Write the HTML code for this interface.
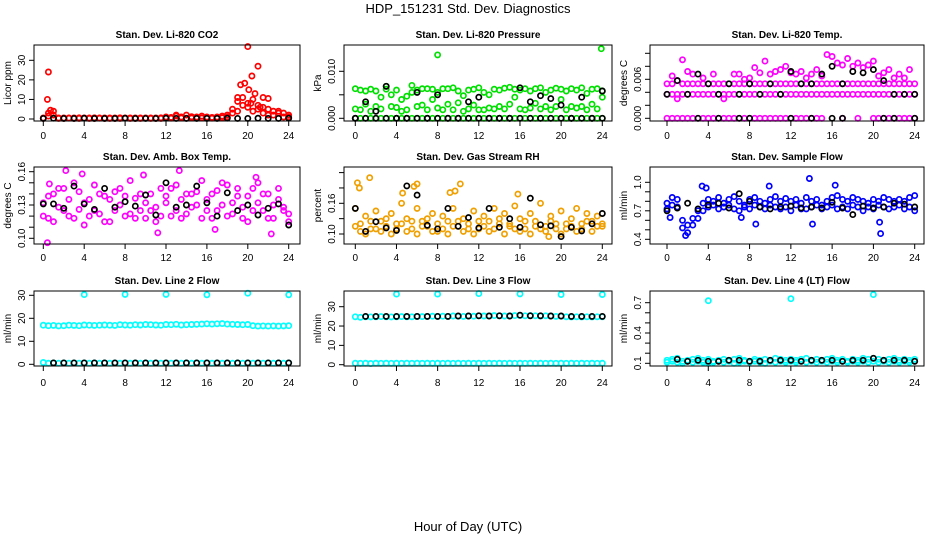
<!DOCTYPE html>
<html><head><meta charset="utf-8">
<style>
html,body{margin:0;padding:0;background:#fff;}
svg{display:block;font-family:"Liberation Sans",sans-serif;}
</style></head>
<body>
<svg id="chart" width="936" height="540" viewBox="0 0 936 540" xmlns="http://www.w3.org/2000/svg">
<text x="468" y="13" text-anchor="middle" font-size="13">HDP_151231  Std. Dev. Diagnostics</text>
<text x="468" y="531" text-anchor="middle" font-size="13">Hour of Day (UTC)</text>
</svg>
<script>
const H49 = [0,0.5,1,1.5,2,2.5,3,3.5,4,4.5,5,5.5,6,6.5,7,7.5,8,8.5,9,9.5,10,10.5,11,11.5,12,12.5,13,13.5,14,14.5,15,15.5,16,16.5,17,17.5,18,18.5,19,19.5,20,20.5,21,21.5,22,22.5,23,23.5,24];
const H25 = [0,1,2,3,4,5,6,7,8,9,10,11,12,13,14,15,16,17,18,19,20,21,22,23,24];
const xTicks = [0,4,8,12,16,20,24];

// CO2
const co2Red = [0.5,3,4,0.5,0.5,0.5,0.5,0.6,0.5,0.5,0.6,0.5,0.5,0.5,0.5,0.6,0.5,0.5,0.5,0.5,0.5,0.5,0.5,0.6,1,0.8,1.5,1,2,1.2,1,1.5,1,0.8,1,1.5,2,5,9,11,8,10,7,6,5,4,3,3,2];
const co2Red2 = [0.3,1.5,2,0.3,0.3,0.4,0.3,0.3,0.4,0.3,0.3,0.4,0.3,0.3,0.3,0.3,0.4,0.3,0.3,0.3,0.4,0.3,0.3,0.3,0.5,0.4,2,0.5,0.4,0.5,0.4,0.5,0.6,0.4,0.5,0.6,1,3,4,7,6,4,5,3,2,2,4,1,1];
const co2OutH = [0.5,0.4,19.0,19.3,19.7,20.0,20.1,20.4,20.7,21.0,21.5,22.0,0.7,20.3,21.2];
const co2OutV = [24,10,11,17.5,18.3,37,15,22,13,27,11,10.5,4.5,8,6];
const co2Black = [0.3,0.4,0.3,0.3,0.4,0.3,0.3,0.3,0.4,0.3,0.3,0.3,0.4,0.3,0.3,0.3,0.3,0.3,0.4,0.3,0.3,0.4,0.3,0.3,0.4];

// Pressure
const prsZero = [0,0,0,0,0,0,0,0,0,0,0,0,0,0,0,0,0,0,0,0,0,0,0,0,0,0,0,0,0,0,0,0,0,0,0,0,0,0,0,0,0,0,0,0,0,0,0,0,0];
const prsGreen = [0.0063,0.0018,0.0058,0.0062,0.0025,0.0045,0.0068,0.0050,0.0023,0.0015,0.0047,0.0070,0.0060,0.0028,0.0063,0.0040,0.0055,0.0018,0.0063,0.0065,0.0033,0.0048,0.0020,0.0062,0.0065,0.0018,0.0050,0.0062,0.0025,0.0064,0.0066,0.0045,0.0020,0.0063,0.0058,0.0032,0.0065,0.0025,0.0060,0.0064,0.0040,0.0058,0.0063,0.0022,0.0065,0.0053,0.0030,0.0063,0.0058];
const prsGreen2 = [0.0020,0.0060,0.0030,0.0015,0.0058,0.0020,0.0062,0.0025,0.0060,0.0040,0.0018,0.0055,0.0025,0.0063,0.0018,0.0062,0.0022,0.0063,0.0030,0.0018,0.0058,0.0015,0.0060,0.0028,0.0018,0.0055,0.0022,0.0020,0.0060,0.0020,0.0030,0.0062,0.0060,0.0018,0.0022,0.0063,0.0020,0.0055,0.0018,0.0025,0.0062,0.0018,0.0025,0.0060,0.0025,0.0018,0.0062,0.0020,0.0045];
const prsOutH = [8,23.9];
const prsOutV = [0.0135,0.0148];
const prsBlack = [0,0.0035,0.0015,0.0068,0,0,0.0055,0,0.0050,0,0,0.0035,0.0045,0,0,0,0.0065,0.0035,0.0048,0.0042,0.0028,0,0.0045,0,0.0058];
const prsBlackZero = [0,0,0,0,0,0,0,0,0,0,0,0,0,0,0,0,0,0,0,0,0,0,0,0,0];

// Li-820 temperature
const tmpZero = [0,0,0,0,0,0,0,0,0,0,0,0,0,0,0,0,0,0,0,0,0,0,0,0,0,0,0,0,0,0,0,null,null,null,0,null,null,0,null,null,0,0,0,0,0,0,0,0,0];
const tmpLow = [0.0037,0.0037,0.0037,0.0037,0.0037,0.0037,0.0037,0.0037,0.0037,0.0037,0.0037,0.0037,0.0037,0.0037,0.0037,0.0037,0.0037,0.0037,0.0037,0.0037,0.0037,0.0037,0.0037,0.0037,0.0037,0.0037,0.0037,0.0037,0.0037,0.0037,0.0037,0.0037,0.0037,0.0037,0.0037,0.0037,0.0037,0.0037,0.0037,0.0037,0.0037,0.0037,0.0037,0.0037,0.0037,0.0037,0.0037,0.0037,0.0037];
const tmpMid = [0.0053,0.0053,0.0058,0.0053,0.0053,0.0053,0.0053,0.0053,0.0053,0.0053,0.0053,0.0053,0.0053,0.0053,0.0053,0.0053,0.0053,0.0053,0.0053,0.0053,0.0053,0.0053,0.0053,0.0053,0.0053,0.0053,0.0053,0.0053,0.0053,0.0053,0.0053,0.0053,0.0053,0.0053,0.0053,0.0053,0.0053,0.0053,0.0053,0.0053,0.0053,0.0053,0.0053,0.0053,0.0053,0.0053,0.0053,0.0053,0.0053];
const tmpHigh = [null,0.0065,0.0030,0.0090,0.0072,0.0068,null,0.0062,null,0.0068,null,0.0030,null,0.0068,0.0068,0.0060,0.0062,0.0078,0.0070,0.0088,0.0068,0.0072,0.0075,0.0080,0.0070,0.0068,0.0072,0.0062,0.0068,0.0075,0.0065,0.0098,0.0095,0.0085,0.0082,0.0092,0.0080,0.0085,0.0078,0.0082,0.0088,0.0065,0.0070,0.0075,0.0062,0.0068,0.0062,0.0075,null];
const tmpBlack = [0.0037,0.0058,0.0037,0.0068,0.0053,0.0037,0.0053,0.0037,0.0053,0.0037,0.0053,0.0037,0.0072,0.0053,0.0053,0.0068,0.0080,0.0053,0.0072,0.0070,0.0075,0.0058,0.0037,0.0037,0.0037];
const tmpBlackZero = [null,null,null,0,null,0,null,0,0,null,null,null,0,null,0,null,0,0,null,null,null,0,0,null,0];

// Ambient box temp
const ambA = [0.132,0.118,0.140,0.128,0.145,0.120,0.150,0.126,0.112,0.135,0.148,0.122,0.138,0.115,0.142,0.130,0.120,0.152,0.136,0.125,0.118,0.140,0.128,0.145,0.132,0.120,0.148,0.135,0.122,0.140,0.130,0.152,0.125,0.118,0.143,0.130,0.148,0.122,0.138,0.128,0.115,0.145,0.132,0.125,0.140,0.118,0.135,0.128,0.122];
const ambB = [0.120,0.138,0.115,0.145,0.125,0.135,0.118,0.142,0.132,0.120,0.125,0.140,0.115,0.135,0.125,0.145,0.138,0.122,0.118,0.140,0.132,0.125,0.115,0.120,0.138,0.145,0.125,0.118,0.140,0.128,0.142,0.118,0.135,0.140,0.125,0.150,0.120,0.132,0.145,0.118,0.138,0.125,0.150,0.140,0.118,0.130,0.145,0.125,0.115];
const ambOutH = [0.6,2.2,3.8,9.8,11.2,13.3,16.8,20.8,22.3,0.4];
const ambOutV = [0.149,0.161,0.158,0.157,0.105,0.161,0.108,0.155,0.104,0.096];
const ambBlack = [0.131,0.131,0.127,0.147,0.131,0.126,0.145,0.128,0.133,0.129,0.139,0.121,0.150,0.128,0.130,0.147,0.132,0.120,0.141,0.125,0.130,0.121,0.127,0.131,0.112];

// Gas stream RH
const rhA = [0.150,0.120,0.135,0.110,0.145,0.125,0.115,0.140,0.120,0.160,0.130,0.110,0.150,0.125,0.115,0.140,0.105,0.135,0.125,0.150,0.115,0.130,0.120,0.145,0.110,0.135,0.125,0.150,0.120,0.140,0.115,0.155,0.130,0.110,0.140,0.125,0.160,0.115,0.135,0.120,0.145,0.110,0.130,0.150,0.120,0.140,0.125,0.135,0.115];
const rhB = [0.115,0.105,0.100,0.125,0.110,0.105,0.130,0.100,0.110,0.120,0.105,0.125,0.100,0.115,0.130,0.105,0.120,0.110,0.100,0.115,0.125,0.105,0.110,0.100,0.125,0.115,0.105,0.110,0.130,0.100,0.120,0.110,0.105,0.125,0.100,0.115,0.110,0.105,0.125,0.110,0.100,0.120,0.115,0.105,0.110,0.125,0.105,0.115,0.120];
const rhOutH = [0.2,0.4,1.4,4.6,5.7,6.0,9.2,9.7,10.2,15.8,18.8];
const rhOutV = [0.200,0.190,0.210,0.180,0.193,0.198,0.181,0.184,0.198,0.178,0.095];
const rhBlack = [0.150,0.105,0.124,0.112,0.107,0.194,0.176,0.117,0.110,0.150,0.115,0.132,0.112,0.150,0.113,0.130,0.113,0.170,0.118,0.116,0.095,0.113,0.106,0.120,0.140];

// Sample flow
const sfA = [0.78,0.84,0.82,0.60,0.55,0.62,0.70,0.78,0.82,0.80,0.84,0.78,0.82,0.85,0.80,0.76,0.82,0.84,0.80,0.78,0.82,0.85,0.80,0.83,0.80,0.82,0.78,0.84,0.80,0.82,0.76,0.80,0.84,0.86,0.82,0.80,0.84,0.82,0.80,0.78,0.82,0.80,0.84,0.82,0.80,0.82,0.80,0.84,0.86];
const sfB = [0.72,0.76,0.74,0.52,0.47,0.55,0.62,0.70,0.74,0.76,0.72,0.74,0.76,0.72,0.70,0.74,0.72,0.76,0.74,0.72,0.76,0.74,0.72,0.74,0.70,0.76,0.72,0.72,0.74,0.76,0.72,0.74,0.76,0.72,0.74,0.72,0.76,0.74,0.70,0.74,0.72,0.76,0.74,0.72,0.74,0.76,0.72,0.74,0.70];
const sfOutH = [0.3,1.8,3.4,3.8,7.2,8.6,13.8,14.1,20.6,20.7,9.9,16.3];
const sfOutV = [0.63,0.44,0.96,0.94,0.63,0.56,1.04,0.56,0.58,0.46,0.96,0.97];
const sfBlack = [0.70,0.73,0.78,0.72,0.76,0.78,0.73,0.88,0.80,0.74,0.72,0.74,0.75,0.73,0.74,0.73,0.79,0.73,0.66,0.75,0.73,0.74,0.78,0.77,0.74];

// Line 2 flow
const l2Band = [17.0,16.8,16.9,16.7,16.8,17.0,16.9,16.8,17.1,17.0,16.9,17.0,17.1,17.0,16.9,17.2,17.1,17.0,17.2,17.1,17.3,17.2,17.1,17.0,17.3,17.2,17.4,17.1,17.2,17.3,17.4,17.5,17.6,17.5,17.6,17.7,17.5,17.4,17.3,17.2,17.3,16.8,16.6,16.7,16.6,16.7,16.6,16.7,16.8];
const l2Zero = [0.8,0.5,0.6,0.5,0.6,0.5,0.6,0.5,0.6,0.5,0.6,0.5,0.6,0.5,0.6,0.5,0.6,0.5,0.6,0.5,0.6,0.5,0.6,0.5,0.6,0.5,0.6,0.5,0.6,0.5,0.6,0.5,0.6,0.5,0.6,0.5,0.6,0.5,0.6,0.5,0.6,0.5,0.6,0.5,0.6,0.5,0.6,0.5,0.6];
const l2OutH = [4,8,12,16,20,24];
const l2OutV = [30.3,30.4,30.4,30.2,30.9,30.2];
const l2Black = [null,0.6,0.6,0.6,0.6,0.6,0.6,0.6,0.6,0.6,0.6,0.6,0.6,0.6,0.6,0.6,0.6,0.6,0.6,0.6,0.6,0.6,0.6,0.6,0.6];

// Line 3 flow
const l3Band = [24.8,24.5,24.8,24.7,24.8,24.9,24.8,24.7,24.8,24.9,24.8,24.8,25.0,24.9,25.0,25.1,25.0,25.1,25.0,25.2,25.1,25.0,25.2,25.1,25.3,25.2,25.3,25.4,25.3,25.2,25.3,25.4,25.5,25.3,25.4,25.3,25.2,25.3,25.2,25.0,25.1,24.8,24.7,24.8,24.7,24.8,24.7,24.8,24.8];
const l3Zero = [0.8,0.7,0.8,0.6,0.8,0.7,0.8,0.7,0.8,0.7,0.8,0.7,0.8,0.7,0.8,0.7,0.8,0.7,0.8,0.7,0.8,0.7,0.8,0.7,0.8,0.7,0.8,0.7,0.8,0.7,0.8,0.7,0.8,0.7,0.8,0.7,0.8,0.7,0.8,0.7,0.8,0.7,0.8,0.7,0.8,0.7,0.8,0.7,0.8];
const l3OutH = [4,8,12,16,20,24];
const l3OutV = [36.5,36.5,36.8,36.6,36.3,36.3];
const l3Black = [null,25,25,25,25,25,25,25,25,25,25.2,25.2,25.3,25.2,25.3,25.2,25.6,25.3,25.3,25.2,25.2,25.0,25.0,25.0,25.0];

// Line 4 flow
const l4A = [0.13,0.14,0.15,0.12,0.13,0.14,0.15,0.13,0.14,0.12,0.13,0.14,0.13,0.14,0.15,0.13,0.12,0.14,0.13,0.14,0.13,0.15,0.14,0.13,0.14,0.13,0.14,0.15,0.13,0.14,0.13,0.14,0.15,0.13,0.14,0.12,0.14,0.13,0.15,0.14,0.15,0.14,0.13,0.14,0.15,0.13,0.14,0.13,0.14];
const l4B = [0.11,0.12,0.11,0.10,0.12,0.11,0.12,0.11,0.10,0.11,0.12,0.11,0.12,0.10,0.11,0.12,0.11,0.12,0.11,0.10,0.12,0.11,0.12,0.11,0.12,0.11,0.12,0.11,0.12,0.11,0.12,0.11,0.12,0.11,0.12,0.11,0.12,0.11,0.12,0.11,0.12,0.11,0.12,0.11,0.12,0.11,0.12,0.11,0.12];
const l4OutH = [4,12,20];
const l4OutV = [0.72,0.74,0.78];
const l4Black = [null,0.14,0.12,0.13,0.12,0.12,0.13,0.13,0.12,0.12,0.13,0.13,0.13,0.12,0.13,0.13,0.13,0.12,0.13,0.13,0.15,0.13,0.13,0.13,0.12];

const NS = "http://www.w3.org/2000/svg";
const svg = document.getElementById("chart");
function mk(tag, attrs, parent){
  const e = document.createElementNS(NS, tag);
  for (const k in attrs) e.setAttribute(k, attrs[k]);
  (parent||svg).appendChild(e);
  return e;
}
const COLS = [{l:34,r:300,x0:43.3,x24:288.7},{l:344,r:612,x0:355.3,x24:602.3},{l:650,r:924,x0:667,x24:914.7}];
const ROWS = [{t:45,b:121,tt:38,xl:139},{t:167,b:244,tt:160,xl:261},{t:291,b:366,tt:284,xl:386}];

const panels = [
 {name:"co2",title:"Stan. Dev. Li-820 CO2",ylab:"Licor ppm",c:0,r:0,ya:0,yap:119,yb:30,ybp:60.3,ticks:[0,10,20,30],labels:["0","10","20","30"],
  series:[["#ff0000",H49,co2Red],["#ff0000",H49,co2Red2],["#ff0000",co2OutH,co2OutV],["#000000",H25,co2Black]]},
 {name:"pressure",title:"Stan. Dev. Li-820 Pressure",ylab:"kPa",c:1,r:0,ya:0,yap:118.3,yb:0.01,ybp:71.3,ticks:[0,0.005,0.01],labels:["0.000","","0.010"],
  series:[["#00e000",H49,prsZero],["#00e000",H49,prsGreen],["#00e000",H49,prsGreen2],["#00e000",prsOutH,prsOutV],["#000000",H25,prsBlackZero],["#000000",H25,prsBlack]]},
 {name:"licor-temp",title:"Stan. Dev. Li-820 Temp.",ylab:"degrees C",c:2,r:0,ya:0,yap:118.3,yb:0.006,ybp:79.3,ticks:[0,0.002,0.004,0.006,0.008,0.010],labels:["0.000","","","0.006","",""],
  series:[["#ff00ff",H49,tmpZero],["#ff00ff",H49,tmpLow],["#ff00ff",H49,tmpMid],["#ff00ff",H49,tmpHigh],["#000000",H25,tmpBlackZero],["#000000",H25,tmpBlack]]},
 {name:"amb-box-temp",title:"Stan. Dev. Amb. Box Temp.",ylab:"degrees C",c:0,r:1,ya:0.10,yap:238.3,yb:0.16,ybp:171.7,ticks:[0.10,0.11,0.12,0.13,0.14,0.15,0.16],labels:["0.10","","","0.13","","","0.16"],
  series:[["#ff00ff",H49,ambA],["#ff00ff",H49,ambB],["#ff00ff",ambOutH,ambOutV],["#000000",H25,ambBlack]]},
 {name:"gas-rh",title:"Stan. Dev. Gas Stream RH",ylab:"percent",c:1,r:1,ya:0.10,yap:234,yb:0.16,ybp:203.3,ticks:[0.10,0.13,0.16,0.19,0.22],labels:["0.10","","0.16","",""],
  series:[["#f0a000",H49,rhA],["#f0a000",H49,rhB],["#f0a000",rhOutH,rhOutV],["#000000",H25,rhBlack]]},
 {name:"sample-flow",title:"Stan. Dev. Sample Flow",ylab:"ml/min",c:2,r:1,ya:0.4,yap:239.3,yb:1.0,ybp:182.3,ticks:[0.4,0.5,0.6,0.7,0.8,0.9,1.0],labels:["0.4","","","0.7","","","1.0"],
  series:[["#0000ff",H49,sfA],["#0000ff",H49,sfB],["#0000ff",sfOutH,sfOutV],["#000000",H25,sfBlack]]},
 {name:"line2-flow",title:"Stan. Dev. Line 2 Flow",ylab:"ml/min",c:0,r:2,ya:0,yap:364.3,yb:30,ybp:295.3,ticks:[0,10,20,30],labels:["0","10","20","30"],
  series:[["#00ffff",H49,l2Band],["#00ffff",H49,l2Zero],["#00ffff",l2OutH,l2OutV],["#000000",H25,l2Black]]},
 {name:"line3-flow",title:"Stan. Dev. Line 3 Flow",ylab:"ml/min",c:1,r:2,ya:0,yap:364.7,yb:30,ybp:306.7,ticks:[0,10,20,30],labels:["0","10","20","30"],
  series:[["#00ffff",H49,l3Band],["#00ffff",H49,l3Zero],["#00ffff",l3OutH,l3OutV],["#000000",H25,l3Black]]},
 {name:"line4-flow",title:"Stan. Dev. Line 4 (LT) Flow",ylab:"ml/min",c:2,r:2,ya:0.1,yap:363.3,yb:0.7,ybp:302.7,ticks:[0.1,0.2,0.3,0.4,0.5,0.6,0.7],labels:["0.1","","","0.4","","","0.7"],
  series:[["#00ffff",H49,l4A],["#00ffff",H49,l4B],["#00ffff",l4OutH,l4OutV],["#000000",H25,l4Black]]}
];

panels.forEach(p=>{
  const C = COLS[p.c], R = ROWS[p.r];
  const xs = h => C.x0 + h*(C.x24-C.x0)/24;
  const ys = v => p.yap + (v-p.ya)*(p.ybp-p.yap)/(p.yb-p.ya);
  const g = mk("g",{});
  
  
  const t = mk("text",{x:(C.l+C.r)/2,y:R.tt,"text-anchor":"middle","font-size":"10","font-weight":"bold"},g);
  t.textContent = p.title;
  
  
  p.series.forEach((s,si)=>{
    const sg = mk("g",{fill:"none",stroke:s[0],"stroke-width":"1.7"},g);
    
    
    s[2].forEach((v,i)=>{
      if (v===null || v===undefined) return;
      const c = mk("circle",{cx:xs(s[1][i]).toFixed(1),cy:ys(v).toFixed(1),r:"2.6"},sg);
      
      
    });
  });
  const bx = mk("rect",{x:C.l,y:R.t,width:C.r-C.l,height:R.b-R.t,fill:"none",stroke:"#000","stroke-width":"1"},g);
  
  
  const xa = mk("g",{stroke:"#000","stroke-width":"1"},g);
  
  
  mk("line",{x1:xs(0),x2:xs(24),y1:R.b,y2:R.b},xa);
  xTicks.forEach(h=>{
    mk("line",{x1:xs(h),x2:xs(h),y1:R.b,y2:R.b+5},xa);
    const lt = mk("text",{x:xs(h),y:R.xl,"text-anchor":"middle","font-size":"10",stroke:"none",fill:"#000"},xa);
    lt.textContent = h;
    
    
  });
  const ya = mk("g",{stroke:"#000","stroke-width":"1"},g);
  
  
  mk("line",{x1:C.l,x2:C.l,y1:ys(p.ticks[0]),y2:ys(p.ticks[p.ticks.length-1])},ya);
  p.ticks.forEach((v,i)=>{
    const y = ys(v);
    mk("line",{x1:C.l-5,x2:C.l,y1:y,y2:y},ya);
    if (p.labels[i]) {
      const lx = C.l-9;
      const lt = mk("text",{x:lx,y:y,"text-anchor":"middle","font-size":"10",stroke:"none",fill:"#000",transform:"rotate(-90 "+lx+" "+y+")"},ya);
      lt.textContent = p.labels[i];
      
      
    }
  });
  const yx = C.l-23, yy = (R.t+R.b)/2;
  const yt = mk("text",{x:yx,y:yy,"text-anchor":"middle","font-size":"10",transform:"rotate(-90 "+yx+" "+yy+")"},g);
  yt.textContent = p.ylab;
  
  
});
</script>
</body></html>
